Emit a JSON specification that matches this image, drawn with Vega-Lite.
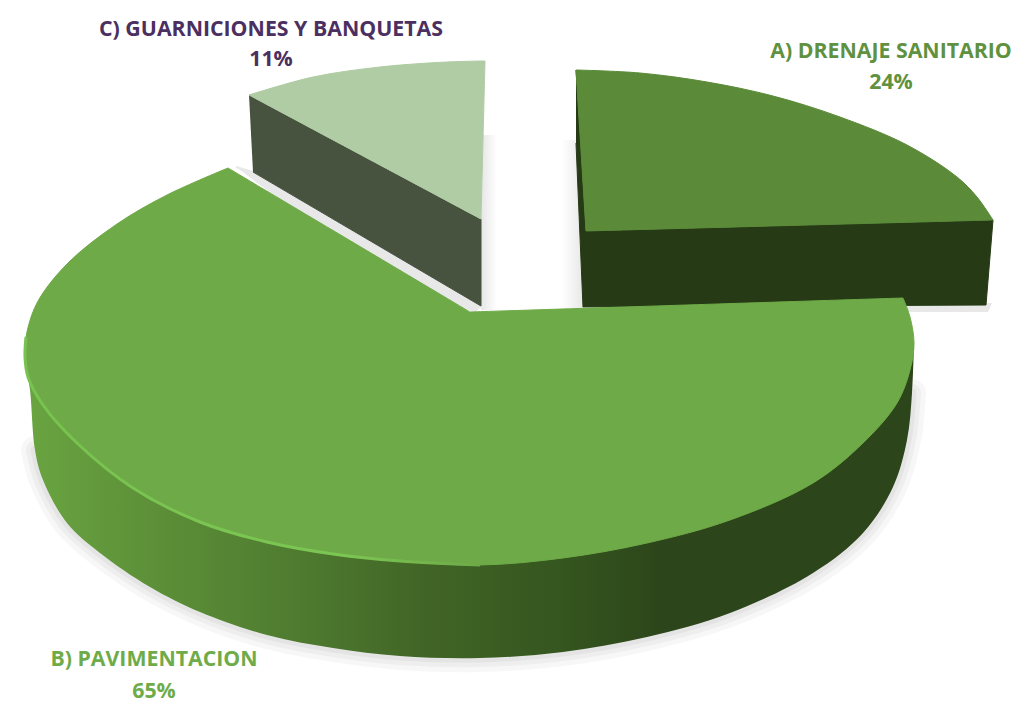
{"$schema":"https://vega.github.io/schema/vega-lite/v6.json","autosize":"none","width":1029,"height":709,"padding":0,"background":"#ffffff","view":{"stroke":null},
"datasets":{
"labels":[
{"part":"A","label":"A) DRENAJE SANITARIO","share":0.24,"x":891,"y":52,"yShare":83},
{"part":"B","label":"B) PAVIMENTACION","share":0.65,"x":154,"y":660,"yShare":692},
{"part":"C","label":"C) GUARNICIONES Y BANQUETAS","share":0.11,"x":271,"y":30,"yShare":60}],
"outline":[
{"part":"wallEdge","seq":1,"x":25,"y":357},{"part":"wallEdge","seq":2,"x":30,"y":390},{"part":"wallEdge","seq":3,"x":35,"y":450},{"part":"wallEdge","seq":4,"x":43,"y":480},{"part":"wallEdge","seq":5,"x":67,"y":523},{"part":"wallEdge","seq":6,"x":100,"y":553},{"part":"wallEdge","seq":7,"x":150,"y":587},{"part":"wallEdge","seq":8,"x":200,"y":612},{"part":"wallEdge","seq":9,"x":267,"y":635},{"part":"wallEdge","seq":10,"x":333,"y":648},{"part":"wallEdge","seq":11,"x":400,"y":656},{"part":"wallEdge","seq":12,"x":480,"y":658},{"part":"wallEdge","seq":13,"x":563,"y":652},{"part":"wallEdge","seq":14,"x":647,"y":637},{"part":"wallEdge","seq":15,"x":730,"y":613},{"part":"wallEdge","seq":16,"x":813,"y":573},{"part":"wallEdge","seq":17,"x":863,"y":533},{"part":"wallEdge","seq":18,"x":893,"y":487},{"part":"wallEdge","seq":19,"x":907,"y":440},{"part":"wallEdge","seq":20,"x":912,"y":393},{"part":"wallEdge","seq":21,"x":914,"y":343},
{"part":"gapCB","seq":1,"x":236,"y":167},{"part":"gapCB","seq":2,"x":253,"y":172},{"part":"gapCB","seq":3,"x":481,"y":306},{"part":"gapCB","seq":4,"x":474,"y":312},{"part":"gapCB","seq":5,"x":300,"y":215},
{"part":"gapC","seq":1,"x":481,"y":135},{"part":"gapC","seq":2,"x":497,"y":135},{"part":"gapC","seq":3,"x":497,"y":310},{"part":"gapC","seq":4,"x":481,"y":310},
{"part":"gapA","seq":1,"x":562,"y":140},{"part":"gapA","seq":2,"x":578,"y":140},{"part":"gapA","seq":3,"x":584,"y":309},{"part":"gapA","seq":4,"x":562,"y":310},
{"part":"gapAB","seq":1,"x":900,"y":305},{"part":"gapAB","seq":2,"x":992,"y":303},{"part":"gapAB","seq":3,"x":988,"y":312},{"part":"gapAB","seq":4,"x":908,"y":312},
{"part":"Cside","seq":1,"x":249,"y":95},{"part":"Cside","seq":2,"x":481,"y":219},{"part":"Cside","seq":3,"x":481,"y":306},{"part":"Cside","seq":4,"x":253,"y":172},
{"part":"Ctop","seq":1,"x":249,"y":95},{"part":"Ctop","seq":2,"x":249,"y":95},{"part":"Ctop","seq":3,"x":313,"y":77},{"part":"Ctop","seq":4,"x":380,"y":67},{"part":"Ctop","seq":5,"x":447,"y":62},{"part":"Ctop","seq":6,"x":485,"y":61},{"part":"Ctop","seq":7,"x":485,"y":61},{"part":"Ctop","seq":8,"x":481,"y":219},{"part":"Ctop","seq":9,"x":481,"y":219},{"part":"Ctop","seq":10,"x":249,"y":95},{"part":"Ctop","seq":11,"x":249,"y":95},
{"part":"Aside","seq":1,"x":576,"y":70},{"part":"Aside","seq":2,"x":586,"y":231},{"part":"Aside","seq":3,"x":993,"y":220},{"part":"Aside","seq":4,"x":986,"y":305},{"part":"Aside","seq":5,"x":583,"y":307},{"part":"Aside","seq":6,"x":576,"y":143},
{"part":"Atop","seq":1,"x":576,"y":70},{"part":"Atop","seq":2,"x":576,"y":70},{"part":"Atop","seq":3,"x":640,"y":73},{"part":"Atop","seq":4,"x":707,"y":82},{"part":"Atop","seq":5,"x":773,"y":96},{"part":"Atop","seq":6,"x":840,"y":117},{"part":"Atop","seq":7,"x":907,"y":145},{"part":"Atop","seq":8,"x":957,"y":177},{"part":"Atop","seq":9,"x":977,"y":197},{"part":"Atop","seq":10,"x":993,"y":220},{"part":"Atop","seq":11,"x":993,"y":220},{"part":"Atop","seq":12,"x":586,"y":231},{"part":"Atop","seq":13,"x":586,"y":231},{"part":"Atop","seq":14,"x":576,"y":70},{"part":"Atop","seq":15,"x":576,"y":70},
{"part":"Btop","seq":1,"x":470,"y":312},{"part":"Btop","seq":2,"x":470,"y":312},{"part":"Btop","seq":3,"x":228,"y":168},{"part":"Btop","seq":4,"x":228,"y":168},{"part":"Btop","seq":5,"x":167,"y":195},{"part":"Btop","seq":6,"x":117,"y":224},{"part":"Btop","seq":7,"x":67,"y":264},{"part":"Btop","seq":8,"x":37,"y":303},{"part":"Btop","seq":9,"x":26,"y":337},{"part":"Btop","seq":10,"x":25,"y":357},{"part":"Btop","seq":11,"x":28,"y":377},{"part":"Btop","seq":12,"x":43,"y":405},{"part":"Btop","seq":13,"x":77,"y":443},{"part":"Btop","seq":14,"x":133,"y":488},{"part":"Btop","seq":15,"x":200,"y":522},{"part":"Btop","seq":16,"x":267,"y":542},{"part":"Btop","seq":17,"x":333,"y":554},{"part":"Btop","seq":18,"x":400,"y":561},{"part":"Btop","seq":19,"x":480,"y":565},{"part":"Btop","seq":20,"x":563,"y":558},{"part":"Btop","seq":21,"x":647,"y":543},{"part":"Btop","seq":22,"x":730,"y":520},{"part":"Btop","seq":23,"x":813,"y":483},{"part":"Btop","seq":24,"x":863,"y":443},{"part":"Btop","seq":25,"x":897,"y":403},{"part":"Btop","seq":26,"x":910,"y":370},{"part":"Btop","seq":27,"x":914,"y":343},{"part":"Btop","seq":28,"x":910,"y":317},{"part":"Btop","seq":29,"x":903,"y":298},{"part":"Btop","seq":30,"x":903,"y":298},{"part":"Btop","seq":31,"x":470,"y":312},{"part":"Btop","seq":32,"x":470,"y":312},
{"part":"rim","seq":1,"x":26,"y":337},{"part":"rim","seq":2,"x":25,"y":357},{"part":"rim","seq":3,"x":28,"y":377},{"part":"rim","seq":4,"x":43,"y":405},{"part":"rim","seq":5,"x":77,"y":443},{"part":"rim","seq":6,"x":133,"y":488},{"part":"rim","seq":7,"x":200,"y":522},{"part":"rim","seq":8,"x":267,"y":542},{"part":"rim","seq":9,"x":333,"y":554},{"part":"rim","seq":10,"x":400,"y":561},{"part":"rim","seq":11,"x":480,"y":565}
]},
"encoding":{
"x":{"field":"x","type":"quantitative","axis":null,"scale":{"domain":[0,1029],"nice":false,"zero":false}},
"y":{"field":"y","type":"quantitative","axis":null,"scale":{"domain":[709,0],"nice":false,"zero":false}},
"order":{"field":"seq","type":"quantitative"}
},
"layer":[
{"data":{"name":"outline"},"transform":[{"filter":"datum.part==='wallEdge' && datum.seq>=3 && datum.seq<=20"}],"mark":{"type":"line","interpolate":"catmull-rom","strokeCap":"round","stroke":"#000000","strokeOpacity":0.03,"strokeWidth":28}},
{"data":{"name":"outline"},"transform":[{"filter":"datum.part==='wallEdge' && datum.seq>=3 && datum.seq<=20"}],"mark":{"type":"line","interpolate":"catmull-rom","strokeCap":"round","stroke":"#000000","strokeOpacity":0.035,"strokeWidth":18}},
{"data":{"name":"outline"},"transform":[{"filter":"datum.part==='wallEdge' && datum.seq>=3 && datum.seq<=20"}],"mark":{"type":"line","interpolate":"catmull-rom","strokeCap":"round","stroke":"#000000","strokeOpacity":0.04,"strokeWidth":9}},
{"data":{"name":"outline"},"transform":[{"filter":"datum.part==='gapCB'"}],"mark":{"type":"line","fill":"#e8e8e8","stroke":"#e8e8e8"}},
{"data":{"name":"outline"},"transform":[{"filter":"datum.part==='gapC'"}],"mark":{"type":"line","strokeWidth":0,"fill":{"gradient":"linear","x1":0,"y1":0,"x2":1,"y2":0,"stops":[{"offset":0,"color":"#e6e6e6"},{"offset":1,"color":"#ffffff"}]}}},
{"data":{"name":"outline"},"transform":[{"filter":"datum.part==='gapA'"}],"mark":{"type":"line","strokeWidth":0,"fill":{"gradient":"linear","x1":0,"y1":0,"x2":1,"y2":0,"stops":[{"offset":0,"color":"#ffffff"},{"offset":1,"color":"#e6e6e6"}]}}},
{"data":{"name":"outline"},"transform":[{"filter":"datum.part==='gapAB'"}],"mark":{"type":"line","strokeWidth":0,"fill":"#e8e8e8"}},
{"data":{"name":"outline"},"transform":[{"filter":"datum.part==='Cside'"}],"mark":{"type":"line","fill":"#47523f","stroke":"#47523f","strokeWidth":1}},
{"data":{"name":"outline"},"transform":[{"filter":"datum.part==='Ctop'"}],"mark":{"type":"line","interpolate":"catmull-rom","fill":"#b0cca4","stroke":"#b0cca4","strokeWidth":1}},
{"data":{"name":"outline"},"transform":[{"filter":"datum.part==='Aside'"}],"mark":{"type":"line","fill":"#263a15","stroke":"#263a15","strokeWidth":1}},
{"data":{"name":"outline"},"transform":[{"filter":"datum.part==='Atop'"}],"mark":{"type":"line","interpolate":"catmull-rom","fill":"#5b8b39","stroke":"#5b8b39","strokeWidth":1}},
{"data":{"name":"outline"},"transform":[{"filter":"datum.part==='wallEdge'"}],"mark":{"type":"line","interpolate":"catmull-rom","strokeWidth":0,"fill":{"gradient":"linear","x1":0,"y1":0,"x2":1,"y2":0,"stops":[{"offset":0,"color":"#6aa541"},{"offset":0.14,"color":"#5d9038"},{"offset":0.3,"color":"#4f7c30"},{"offset":0.45,"color":"#416526"},{"offset":0.6,"color":"#35561f"},{"offset":0.72,"color":"#2c451a"},{"offset":1,"color":"#2c451a"}]}}},
{"data":{"name":"outline"},"transform":[{"filter":"datum.part==='Btop'"}],"mark":{"type":"line","interpolate":"catmull-rom","fill":"#6eaa47","stroke":"#6eaa47","strokeWidth":1}},
{"data":{"name":"outline"},"transform":[{"filter":"datum.part==='rim'"}],"mark":{"type":"line","interpolate":"catmull-rom","strokeWidth":3,"stroke":{"gradient":"linear","x1":0,"y1":0,"x2":1,"y2":0,"stops":[{"offset":0,"color":"#78c24f"},{"offset":0.7,"color":"#7cc653"},{"offset":1,"color":"#6eaa47"}]}}},
{"data":{"name":"labels"},"mark":{"type":"text","font":"Open Sans","fontWeight":700,"fontSize":21.3,"align":"center","baseline":"middle"},"encoding":{"x":{"field":"x","type":"quantitative"},"y":{"field":"y","type":"quantitative"},"order":null,"text":{"field":"label","type":"nominal"},"color":{"field":"part","type":"nominal","legend":null,"scale":{"domain":["A","B","C"],"range":["#5f9140","#6fab49","#4b2f61"]}}}},
{"data":{"name":"labels"},"mark":{"type":"text","font":"Open Sans","fontWeight":700,"fontSize":21.3,"align":"center","baseline":"middle"},"encoding":{"x":{"field":"x","type":"quantitative"},"y":{"field":"yShare","type":"quantitative"},"order":null,"text":{"field":"share","type":"quantitative","format":".0%"},"color":{"field":"part","type":"nominal","legend":null,"scale":{"domain":["A","B","C"],"range":["#5f9140","#6fab49","#4b2f61"]}}}}
]}
